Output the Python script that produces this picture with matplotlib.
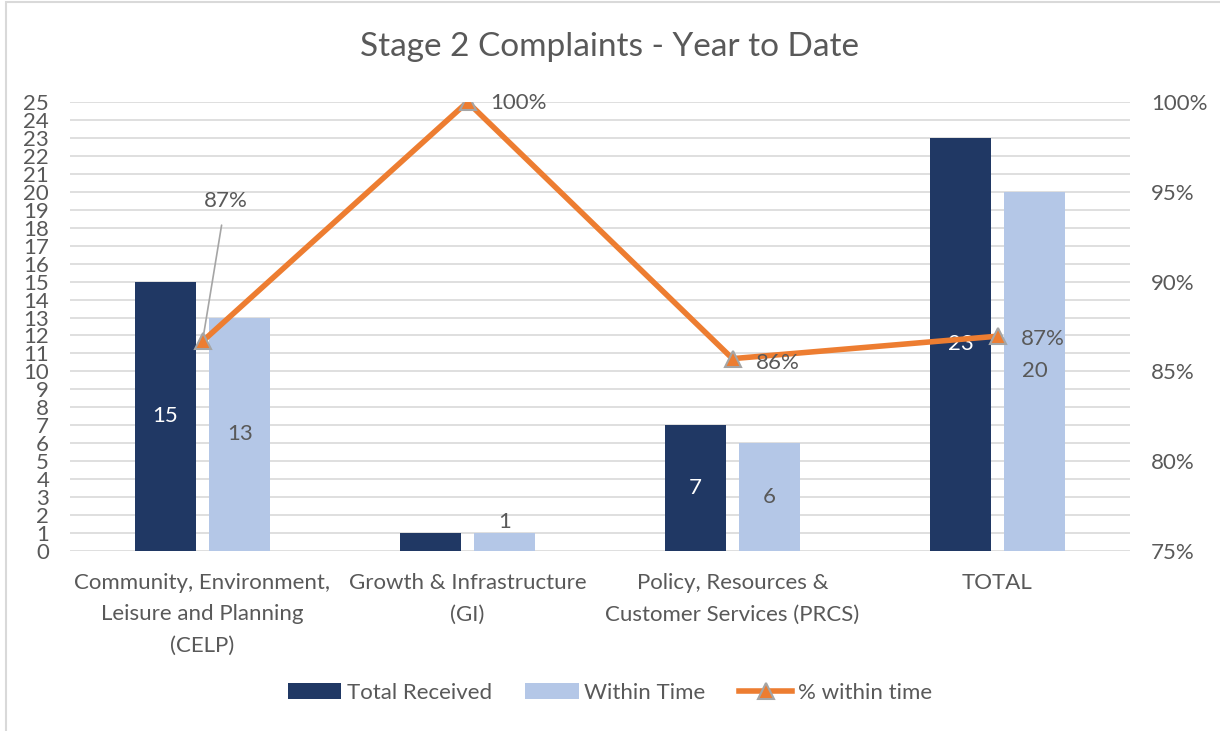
import matplotlib
matplotlib.use("Agg")
import matplotlib.pyplot as plt
from matplotlib.patches import Rectangle, Patch
from matplotlib.lines import Line2D
import numpy as np

plt.rcParams['font.family'] = ['Lato', 'DejaVu Sans']

categories = ["Community, Environment,\nLeisure and Planning\n(CELP)",
              "Growth & Infrastructure\n(GI)",
              "Policy, Resources &\nCustomer Services (PRCS)",
              "TOTAL"]
total_received = [15, 1, 7, 23]
within_time = [13, 1, 6, 20]
pct_within = [0.8667, 1.0, 0.8571, 0.8696]
pct_labels = ["87%", "100%", "86%", "87%"]

dark = "#203864"
light = "#B4C7E7"
orange = "#ED7D31"
grey_txt = "#595959"
FS = 16

fig = plt.figure(figsize=(12.2, 7.31), dpi=100)
fig.patches.append(Rectangle((6/1220, -0.1), 1.2, 1 - 2/731 + 0.1, transform=fig.transFigure,
                             fill=False, edgecolor="#D9D9D9", linewidth=1.5))
ax = fig.add_axes([70/1220, 1 - 551/731, 1060/1220, 449/731])
x = np.arange(len(categories))
w = 0.23
off = 0.14
ax.bar(x - off, total_received, w, color=dark, zorder=2)
ax.bar(x + off, within_time, w, color=light, zorder=2)
ax.set_xlim(-0.5, 3.5)
ax.set_ylim(0, 25)
ax.set_yticks(range(0, 26))
ax.yaxis.grid(True, color="#D9D9D9", linewidth=1.2, zorder=0)
ax.set_axisbelow(True)
for s in ax.spines.values():
    s.set_visible(False)
ax.tick_params(axis='both', length=0, labelsize=FS, colors=grey_txt)
ax.tick_params(axis='y', pad=15)
ax.set_xticks(x)
ax.set_xticklabels(categories, fontsize=FS, color=grey_txt, linespacing=1.7)
ax.tick_params(axis='x', pad=16)

# value labels
for i, (t, v) in enumerate(zip(total_received, within_time)):
    if i == 1:
        ax.text(x[i] - off, t - 0.15, str(t), ha='center', va='bottom', color='white', fontsize=FS, zorder=1.5)
        ax.text(x[i] + off, v + 0.05, str(v), ha='center', va='bottom', color=grey_txt, fontsize=FS, zorder=3)
    else:
        ax.text(x[i] - off, t / 2, str(t), ha='center', va='center', color='white', fontsize=FS, zorder=3)
        ax.text(x[i] + off, v / 2, str(v), ha='center', va='center', color=grey_txt, fontsize=FS, zorder=3)

ax2 = ax.twinx()
ax2.set_ylim(0.75, 1.0)
ax2.set_yticks([0.75, 0.80, 0.85, 0.90, 0.95, 1.0])
ax2.set_yticklabels([f"{int(round(t*100))}%" for t in ax2.get_yticks()])
ax2.tick_params(axis='y', length=0, labelsize=FS, colors=grey_txt, pad=15)
for s in ax2.spines.values():
    s.set_visible(False)
ax2.plot(x, pct_within, color=orange, linewidth=4, marker='^', markersize=11,
         markerfacecolor=orange, markeredgecolor="#A5A5A5", markeredgewidth=1.5, zorder=4,
         solid_capstyle='round')

offsets = [(23, 140), (23, -1), (23, -4), (23, -3)]
for i, (lab, p) in enumerate(zip(pct_labels, pct_within)):
    if i == 0:
        ax2.annotate(lab, xy=(x[i], p), xytext=offsets[i], textcoords='offset pixels',
                     ha='center', va='center', fontsize=FS, color=grey_txt,
                     arrowprops=dict(arrowstyle='-', color='#A5A5A5', lw=1.2, shrinkA=8, shrinkB=3))
    else:
        ax2.annotate(lab, xy=(x[i], p), xytext=offsets[i], textcoords='offset pixels',
                     ha='left', va='center', fontsize=FS, color=grey_txt, zorder=5)

fig.text(0.5, 1 - 47/731, "Stage 2 Complaints - Year to Date", ha='center', va='center',
         fontsize=24, color=grey_txt)

handles = [Patch(facecolor=dark), Patch(facecolor=light),
           Line2D([0], [0], color=orange, lw=4, marker='^', markersize=11,
                  markerfacecolor=orange, markeredgecolor="#A5A5A5", markeredgewidth=1.5)]
fig.legend(handles, ["Total Received", "Within Time", "% within time"], loc='center',
           bbox_to_anchor=(0.5, 1 - 693/731), ncol=3, frameon=False, fontsize=FS,
           labelcolor=grey_txt, handlelength=2.4, handleheight=0.7, columnspacing=1.5, handletextpad=0.25)

fig.savefig("out.png", dpi=100)
